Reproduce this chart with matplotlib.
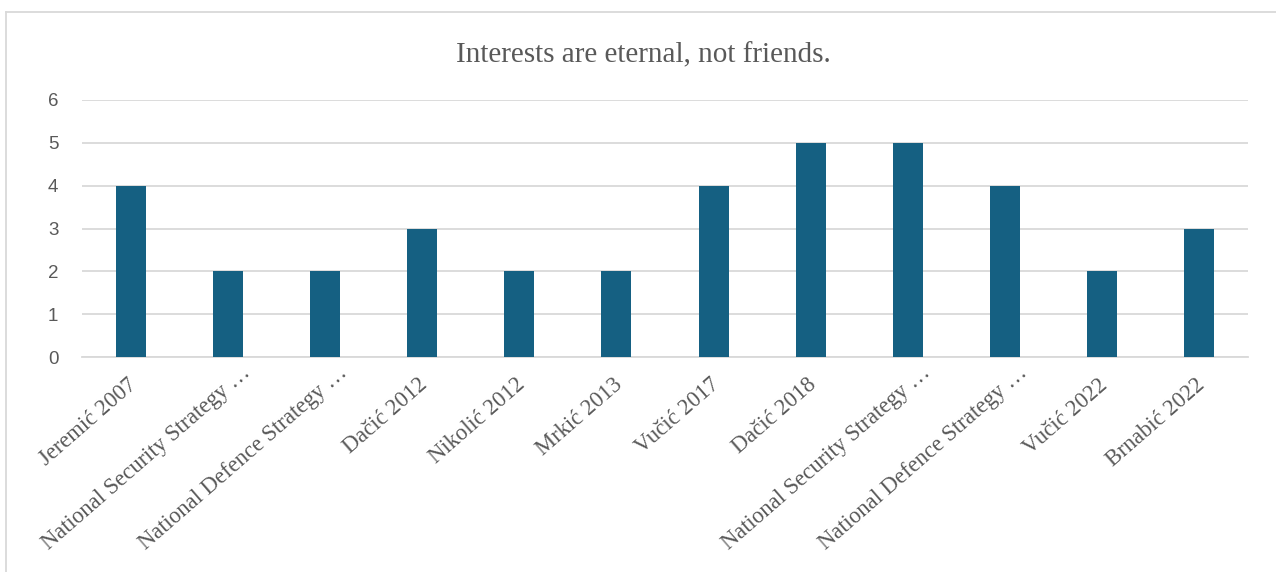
import matplotlib
matplotlib.use("Agg")
import matplotlib.pyplot as plt
import matplotlib.transforms as mtransforms
from matplotlib.lines import Line2D

categories = [
    "Jeremić 2007",
    "National Security Strategy …",
    "National Defence Strategy …",
    "Dačić 2012",
    "Nikolić 2012",
    "Mrkić 2013",
    "Vučić 2017",
    "Dačić 2018",
    "National Security Strategy …",
    "National Defence Strategy …",
    "Vučić 2022",
    "Brnabić 2022",
]
values = [4, 2, 2, 3, 2, 2, 4, 5, 5, 4, 2, 3]
y_ticks = [0, 1, 2, 3, 4, 5, 6]
title = "Interests are eternal, not friends."

W, H = 1276, 572
fig = plt.figure(figsize=(W / 100, H / 100), dpi=100)
ax = fig.add_axes([82 / W, 1 - 357 / H, (1248 - 82) / W, (357 - 100) / H])

bar_color = "#156082"
grid_color = "#d9d9d9"
text_color = "#595959"

x = list(range(len(categories)))
ax.bar(x, values, width=0.31, color=bar_color, zorder=3)

ax.set_xlim(-0.5, len(categories) - 0.5)
ax.set_ylim(0, 6)
ax.set_yticks(y_ticks)
ax.set_yticklabels([str(t) for t in y_ticks], fontfamily="Liberation Sans",
                   fontsize=13.5, color=text_color)
ax.yaxis.grid(True, color=grid_color, linewidth=1.3, zorder=0)
ax.set_axisbelow(True)
ax.tick_params(axis="y", length=0, pad=17)
ax.tick_params(axis="x", length=0, pad=6)
for s in ["top", "right", "left"]:
    ax.spines[s].set_visible(False)
ax.spines["bottom"].set_color(grid_color)
ax.spines["bottom"].set_linewidth(1.3)

ax.set_xticks(x)
ax.set_xticklabels(categories, rotation=41, ha="right", rotation_mode="anchor",
                   fontfamily="Liberation Serif", fontsize=16.3, color=text_color)
# truncated labels sit a little further along their own direction
for lbl in ax.get_xticklabels():
    if lbl.get_text().endswith("…"):
        dx, dy = 13, 3
    else:
        dx, dy = -4, -9
    shift = mtransforms.ScaledTranslation(dx / 100, dy / 100, fig.dpi_scale_trans)
    lbl.set_transform(lbl.get_transform() + shift)

fig.text(643 / W, 1 - 62 / H, title, ha="center", va="baseline",
         fontfamily="Liberation Serif", fontsize=21, color=text_color)

# chart frame
fig.add_artist(Line2D([6 / W, 1.0], [1 - 12 / H, 1 - 12 / H], color="#d9d9d9",
                      linewidth=1.3, transform=fig.transFigure))
fig.add_artist(Line2D([6 / W, 6 / W], [1 - 12 / H, 0.0], color="#d9d9d9",
                      linewidth=1.3, transform=fig.transFigure))

fig.savefig("out.png", dpi=100, facecolor="white")
